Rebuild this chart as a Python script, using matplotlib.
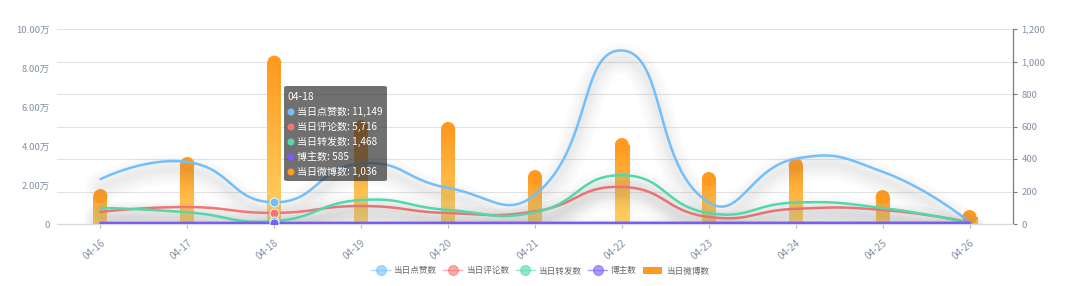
import numpy as np
import matplotlib
matplotlib.use("Agg")
import matplotlib.pyplot as plt
import matplotlib.patheffects as pe
from matplotlib.colors import LinearSegmentedColormap
from matplotlib.patches import Ellipse, FancyBboxPatch, Patch
from matplotlib.lines import Line2D

plt.rcParams["font.family"] = ["Noto Sans CJK SC", "DejaVu Sans"]

dates = ["04-16", "04-17", "04-18", "04-19", "04-20", "04-21",
         "04-22", "04-23", "04-24", "04-25", "04-26"]
likes = [23000, 31800, 11149, 31000, 18500, 15000, 89000, 11000, 33500, 26800, 1000]
comments = [6200, 8700, 5716, 9200, 5600, 6500, 19000, 3600, 7800, 7200, 900]
reposts = [8300, 6000, 1468, 12300, 7200, 6000, 25000, 5600, 11000, 8200, 500]
bloggers = [560, 575, 585, 590, 600, 602, 610, 612, 620, 625, 630]
posts = [215, 412, 1036, 640, 628, 332, 529, 320, 406, 209, 86]

names = ["当日点赞数", "当日评论数", "当日转发数", "博主数", "当日微博数"]
colors = ["#74BFFA", "#F87474", "#52D8AB", "#7B5CF5", "#FF9A1F"]
hover = 2

W, H, DPI = 1080, 286, 100
AX_L, AX_R, AX_T, AX_B = 57, 1013, 29, 224
LEFT_MAX, RIGHT_MAX = 100000, 1200


def fx(px):
    return px / W


def fy(py):
    return 1 - py / H


def echarts_smooth(values, smooth=0.5, n=30):
    # same control point rule as echarts smooth lines, worked out in pixels
    sx = (AX_R - AX_L) / len(values)
    sy = (AX_B - AX_T) / LEFT_MAX
    pts = np.array([[i * sx, v * sy] for i, v in enumerate(values)])
    cps = []
    for i in range(len(pts)):
        p = pts[i]
        if i == 0 or i == len(pts) - 1:
            cps.append((p, p))
            continue
        prev, nxt = pts[i - 1], pts[i + 1]
        v = nxt - prev
        d0 = np.hypot(*(p - prev))
        d1 = np.hypot(*(nxt - p))
        r = d1 / (d0 + d1)
        cps.append((p - v * smooth * (1 - r), p + v * smooth * r))
    xs, ys = [], []
    t = np.linspace(0, 1, n)[:, None]
    for i in range(len(pts) - 1):
        p0, p3 = pts[i], pts[i + 1]
        p1, p2 = cps[i][1], cps[i + 1][0]
        seg = ((1 - t) ** 3) * p0 + 3 * ((1 - t) ** 2) * t * p1 + 3 * (1 - t) * t ** 2 * p2 + t ** 3 * p3
        xs.extend(seg[:, 0] / sx)
        ys.extend(seg[:, 1] / sy)
    return np.array(xs), np.array(ys)


fig = plt.figure(figsize=(W / DPI, H / DPI), dpi=DPI)
ax = fig.add_axes([fx(AX_L), fy(AX_B), fx(AX_R - AX_L), (AX_B - AX_T) / H])
ax2 = ax.twinx()

x = np.arange(len(dates))

# bars (right axis) on the lower axes
ax.set_xlim(-0.5, len(dates) - 0.5)
ax.set_ylim(0, RIGHT_MAX)
bar_w = 14 / ((AX_R - AX_L) / len(dates))
r_y = 7 * RIGHT_MAX / (AX_B - AX_T)
cmap = LinearSegmentedColormap.from_list("bar", ["#FFD466", "#FF9A1F"])
grad = np.linspace(0, 1, 100).reshape(-1, 1)
for xi, v in zip(x, posts):
    top = v - r_y
    ax.imshow(grad, extent=[xi - bar_w / 2, xi + bar_w / 2, 0, top], origin="lower",
              aspect="auto", cmap=cmap, vmin=0, vmax=1, zorder=2,
              interpolation="bilinear")
    ax.add_patch(Ellipse((xi, top), bar_w, 2 * r_y, color="#FF9A1F", zorder=2, lw=0))
ax.set_xlim(-0.5, len(dates) - 0.5)
ax.set_ylim(0, RIGHT_MAX)
ax.set_yticks(np.arange(0, 1201, 200))
ax.set_yticklabels([f"{t:,}" for t in range(0, 1201, 200)])
ax.yaxis.tick_right()
ax.grid(axis="y", color="#E3E3E3", lw=0.8, zorder=0)
ax.set_axisbelow(True)

# lines (left axis) on the upper axes
ax2.set_ylim(0, LEFT_MAX)
ax2.yaxis.tick_left()
ax2.set_yticks(np.arange(0, LEFT_MAX + 1, 20000))
ax2.set_yticklabels(["0"] + [f"{t / 10000:.2f}万" for t in range(20000, LEFT_MAX + 1, 20000)])

shadow = [pe.Stroke(linewidth=w, foreground="#888888", alpha=0.032, offset=(0, -6))
          for w in (22, 17, 12, 8, 4)] + [pe.Normal()]
series = [likes, comments, reposts, bloggers]
for vals, c in zip(series, colors[:4]):
    sx_, sy_ = echarts_smooth(vals)
    ax2.plot(sx_, sy_, color=c, lw=1.8, solid_capstyle="round", zorder=3,
             path_effects=shadow)
    ax2.plot(hover, vals[hover], "o", ms=6.5, color=c, mec="white", mew=0.6, zorder=4)
ax2.set_xlim(-0.5, len(dates) - 0.5)

tick_c = "#8390A3"
for a in (ax, ax2):
    for s in ("top", "left"):
        a.spines[s].set_visible(False)
    a.spines["bottom"].set_color("#D9D9D9")
    a.tick_params(axis="y", length=0, labelsize=6.8, colors=tick_c, pad=5)
ax.spines["right"].set_color("#7A7A7A")
ax2.spines["right"].set_color("#7A7A7A")
ax.tick_params(axis="y", length=3, color="#7A7A7A", pad=3)
ax.set_xticks(x)
ax.set_xticklabels(dates, rotation=40, ha="right", va="top", rotation_mode="anchor")
ax.tick_params(axis="x", length=3, color="#BBBBBB", labelsize=7, colors=tick_c, pad=7)

# tooltip for the hovered day
fig.patches.append(FancyBboxPatch((fx(284), fy(181)), fx(387 - 284), (181 - 86) / H,
                                  boxstyle="round,pad=0,rounding_size=0.004",
                                  transform=fig.transFigure, fc=(0.2, 0.2, 0.2, 0.7),
                                  ec="none", zorder=10))
fig.text(fx(288), fy(97), dates[hover], color="white", fontsize=7.4, va="center", zorder=11)
vals_h = [likes[hover], comments[hover], reposts[hover], bloggers[hover], posts[hover]]
for k, (nm, c, v) in enumerate(zip(names, colors, vals_h)):
    yy = 112 + k * 15
    fig.patches.append(Ellipse((fx(291), fy(yy)), 7 / W, 7 / H, transform=fig.transFigure,
                               fc=c, ec="none", zorder=11))
    fig.text(fx(297), fy(yy), f"{nm}: {v:,}", color="white", fontsize=7.2,
             va="center", zorder=11)

# legend
handles = [Line2D([], [], color=c, alpha=0.6, lw=1, marker="o", ms=7,
                  mfc=c, mec=c) for c in colors[:4]]
handles.append(Patch(fc=colors[4], ec="none"))
fig.legend(handles, names, loc="center", bbox_to_anchor=(0.5, fy(271)), ncol=5,
           frameon=False, fontsize=6.2, handlelength=2.2, handletextpad=0.4,
           columnspacing=0.8, labelcolor="#666666")

fig.savefig("out.png", dpi=DPI)
plt.close(fig)
